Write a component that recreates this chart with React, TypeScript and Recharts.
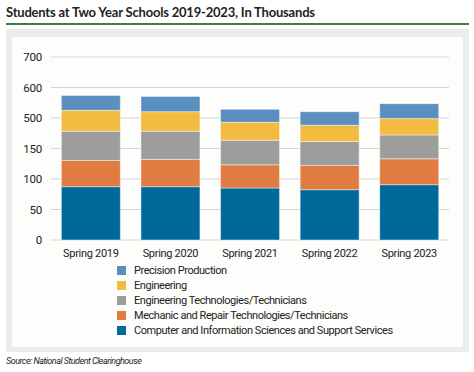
import { BarChart, Bar, XAxis, YAxis, CartesianGrid } from 'recharts';

const years = ['Spring 2019', 'Spring 2020', 'Spring 2021', 'Spring 2022', 'Spring 2023'];

const computerInfo = [87.4, 87.4, 85.3, 82.5, 90.7];
const mechanicRepair = [43.1, 44.7, 38.0, 39.8, 42.4];
const engTechnicians = [47.8, 46.2, 40.3, 39.2, 39.2];
const engineering = [34.3, 32.1, 29.4, 26.6, 26.7];
const precisionProd = [24.4, 25.0, 21.2, 22.3, 24.5];

const yTicks = [0, 50, 100, 150, 200, 250, 300];
// labels as printed on the original axis
const yTickLabels = ['0', '50', '100', '150', '500', '600', '700'];

const series = [
  { key: 'computer', name: 'Computer and Information Sciences and Support Services', color: '#00699c', values: computerInfo },
  { key: 'mechanic', name: 'Mechanic and Repair Technologies/Technicians', color: '#e07b42', values: mechanicRepair },
  { key: 'engTech', name: 'Engineering Technologies/Technicians', color: '#9d9d9b', values: engTechnicians },
  { key: 'engineering', name: 'Engineering', color: '#f3bb40', values: engineering },
  { key: 'precision', name: 'Precision Production', color: '#5b8fc0', values: precisionProd },
];

const data = years.map((year, i) => {
  const row: Record<string, string | number> = { year };
  series.forEach((s) => {
    row[s.key] = s.values[i];
  });
  return row;
});

const font = 'Roboto, sans-serif';

export default function App() {
  return (
    <div style={{ position: 'absolute', left: 0, top: 0, width: 474, height: 372, background: '#fff', overflow: 'hidden' }}>
      <div style={{ position: 'absolute', left: 6, top: 4, fontFamily: 'Lato, sans-serif', fontWeight: 700, fontSize: 13, letterSpacing: -0.2, color: '#222', whiteSpace: 'nowrap' }}>
        Students at Two Year Schools 2019-2023, In Thousands
      </div>
      <div style={{ position: 'absolute', left: 6, top: 23, width: 463, height: 2, background: '#3d7d4c' }} />
      <div style={{ position: 'absolute', left: 6, top: 29, width: 463, height: 323, background: '#ececea' }} />
      <div style={{ position: 'absolute', left: 12, top: 37, width: 451, height: 310, background: '#fdfdfb' }} />

      <div style={{ position: 'absolute', left: 0, top: 0 }}>
        <BarChart
          width={474}
          height={372}
          data={data}
          barCategoryGap="13%"
          margin={{ top: 57, right: 25, bottom: 102, left: 0 }}
        >
          <CartesianGrid vertical={false} stroke="#d6d6d6" strokeWidth={1.2} />
          <XAxis
            dataKey="year"
            axisLine={false}
            tickLine={false}
            tickSize={0}
            tickMargin={9}
            height={30}
            tick={{ fill: '#222', fontSize: 11, fontFamily: font, letterSpacing: -0.3 }}
          />
          <YAxis
            width={51}
            domain={[0, 300]}
            ticks={yTicks}
            interval={0}
            axisLine={false}
            tickLine={false}
            tickSize={0}
            tickMargin={9}
            tickFormatter={(_v: number, i: number) => yTickLabels[i]}
            tick={{ fill: '#222', fontSize: 11.5, fontFamily: font, letterSpacing: -0.2 }}
          />
          {series.map((s) => (
            <Bar
              key={s.key}
              dataKey={s.key}
              name={s.name}
              stackId="a"
              fill={s.color}
              stroke="rgba(255,255,255,0.45)"
              strokeWidth={1}
              isAnimationActive={false}
            />
          ))}
        </BarChart>
      </div>

      <div style={{ position: 'absolute', left: 117, top: 263, fontFamily: font, fontSize: 11, letterSpacing: -0.45, color: '#222' }}>
        {[...series].reverse().map((s) => (
          <div key={s.key} style={{ display: 'flex', alignItems: 'center', height: 15 }}>
            <span style={{ display: 'inline-block', width: 9, height: 9, background: s.color, marginRight: 8 }} />
            <span>{s.name}</span>
          </div>
        ))}
      </div>

      <div style={{ position: 'absolute', left: 6, top: 356, fontFamily: font, fontStyle: 'italic', fontSize: 9, letterSpacing: -0.5, color: '#222', whiteSpace: 'nowrap' }}>
        Source: National Student Clearinghouse
      </div>
    </div>
  );
}
